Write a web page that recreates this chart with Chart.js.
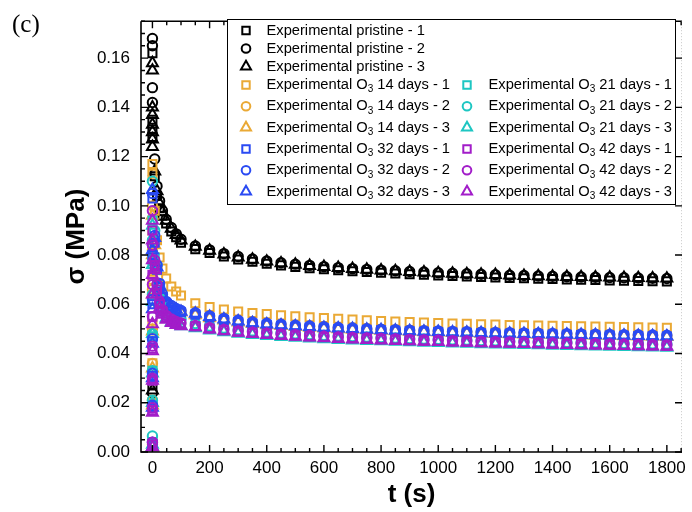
<!DOCTYPE html>
<html lang="es">
<head>
<meta charset="utf-8">
<title>Relajación de esfuerzos</title>
<script src="https://cdn.jsdelivr.net/npm/chart.js@4.4.1/dist/chart.umd.min.js"></script>
<style>
    html, body { margin: 0; padding: 0; background: #fff; overflow: hidden; }
    #myChart { display: block; }
</style>
</head>
<body>
<canvas id="myChart" width="692" height="512"></canvas>
<script>

///////////////////////////////////////////////////////////////////////////
//////////////////////////  DATOS  ////////////////////////////////////////
///////////////////////////////////////////////////////////////////////////

// tiempos de la relajación (s); la carga se grafica toda en t = 0
const tiempoRelax = [8, 16, 25, 35, 48, 66, 83, 100,
    150, 200, 250, 300, 350, 400, 450, 500, 550, 600, 650, 700, 750, 800, 850, 900,
    950, 1000, 1050, 1100, 1150, 1200, 1250, 1300, 1350, 1400, 1450, 1500, 1550, 1600,
    1650, 1700, 1750, 1800];

const ticksX = [0, 200, 400, 600, 800, 1000, 1200, 1400, 1600, 1800];
const ticksY = [0, 0.02, 0.04, 0.06, 0.08, 0.10, 0.12, 0.14, 0.16];

// pristine (MPa)
const cargaPristine1 = [0.0270, 0.1280, 0.1310, 0.1350, 0.1620];
const relaxPristine1 = [0.1120, 0.1040, 0.0990, 0.0960, 0.0928, 0.0896, 0.0872, 0.0850,
    0.0824, 0.0808, 0.0794, 0.0782, 0.0773, 0.0765, 0.0758, 0.0752, 0.0747, 0.0742,
    0.0738, 0.0734, 0.0731, 0.0728, 0.0725, 0.0722, 0.0720, 0.0717, 0.0715, 0.0713,
    0.0711, 0.0709, 0.0707, 0.0706, 0.0704, 0.0703, 0.0701, 0.0700, 0.0699, 0.0697,
    0.0696, 0.0695, 0.0694, 0.0693];
const cargaPristine2 = [0.0240, 0.1420, 0.1480, 0.1650, 0.1680];
const relaxPristine2 = [0.1190, 0.1080, 0.1020, 0.0980, 0.0945, 0.0912, 0.0886, 0.0864,
    0.0837, 0.0821, 0.0806, 0.0794, 0.0784, 0.0776, 0.0769, 0.0763, 0.0758, 0.0753,
    0.0749, 0.0745, 0.0742, 0.0739, 0.0736, 0.0733, 0.0731, 0.0728, 0.0726, 0.0724,
    0.0722, 0.0720, 0.0718, 0.0717, 0.0715, 0.0714, 0.0712, 0.0711, 0.0710, 0.0709,
    0.0708, 0.0707, 0.0706, 0.0705];
const cargaPristine3 = [0.0250, 0.1240, 0.1270, 0.1300, 0.1330, 0.1370, 0.1400, 0.1550, 0.1580];
const relaxPristine3 = [0.1140, 0.1060, 0.1010, 0.0975, 0.0940, 0.0908, 0.0882, 0.0860,
    0.0834, 0.0818, 0.0803, 0.0791, 0.0782, 0.0774, 0.0767, 0.0761, 0.0756, 0.0752,
    0.0748, 0.0744, 0.0741, 0.0738, 0.0735, 0.0732, 0.0730, 0.0727, 0.0725, 0.0723,
    0.0721, 0.0720, 0.0718, 0.0716, 0.0715, 0.0713, 0.0712, 0.0711, 0.0710, 0.0709,
    0.0708, 0.0707, 0.0706, 0.0705];

// O3 14 días
const cargaO3d14_1 = [0.0040, 0.0200, 0.0360, 0.0520, 0.0700, 0.0900, 0.1130, 0.1170];
const relaxO3d14_1 = [0.0980, 0.0860, 0.0790, 0.0745, 0.0705, 0.0672, 0.0652, 0.0636,
    0.0604, 0.0589, 0.0579, 0.0571, 0.0565, 0.0560, 0.0555, 0.0551, 0.0547, 0.0544,
    0.0541, 0.0538, 0.0535, 0.0532, 0.0530, 0.0528, 0.0526, 0.0524, 0.0522, 0.0521,
    0.0519, 0.0518, 0.0516, 0.0515, 0.0514, 0.0513, 0.0512, 0.0511, 0.0510, 0.0509,
    0.0508, 0.0507, 0.0506, 0.0505];
const cargaO3d14_2 = [0.0030, 0.0210, 0.0360, 0.0500, 0.0660, 0.0820, 0.1000];
const relaxO3d14_2 = [0.0860, 0.0750, 0.0680, 0.0640, 0.0610, 0.0592, 0.0580, 0.0571,
    0.0560, 0.0548, 0.0538, 0.0530, 0.0524, 0.0519, 0.0515, 0.0511, 0.0508, 0.0505,
    0.0502, 0.0500, 0.0498, 0.0496, 0.0494, 0.0492, 0.0490, 0.0489, 0.0487, 0.0486,
    0.0484, 0.0483, 0.0482, 0.0481, 0.0480, 0.0479, 0.0478, 0.0477, 0.0476, 0.0475,
    0.0474, 0.0473, 0.0472, 0.0471];
const cargaO3d14_3 = [0.0020, 0.0190, 0.0340, 0.0490, 0.0640, 0.0800, 0.0960];
const relaxO3d14_3 = [0.0840, 0.0735, 0.0670, 0.0632, 0.0603, 0.0587, 0.0576, 0.0567,
    0.0556, 0.0544, 0.0535, 0.0527, 0.0521, 0.0516, 0.0512, 0.0508, 0.0505, 0.0502,
    0.0499, 0.0497, 0.0495, 0.0493, 0.0491, 0.0489, 0.0487, 0.0486, 0.0484, 0.0483,
    0.0481, 0.0480, 0.0479, 0.0478, 0.0477, 0.0476, 0.0475, 0.0474, 0.0473, 0.0472,
    0.0471, 0.0470, 0.0469, 0.0468];

// O3 21 días
const cargaO3d21_1 = [0.0040, 0.0190, 0.0330, 0.0470, 0.0620, 0.0780, 0.0940];
const relaxO3d21_1 = [0.0790, 0.0680, 0.0615, 0.0582, 0.0558, 0.0543, 0.0533, 0.0526,
    0.0510, 0.0501, 0.0494, 0.0488, 0.0483, 0.0479, 0.0475, 0.0472, 0.0469, 0.0466,
    0.0463, 0.0461, 0.0459, 0.0457, 0.0455, 0.0453, 0.0451, 0.0450, 0.0448, 0.0447,
    0.0445, 0.0444, 0.0443, 0.0442, 0.0441, 0.0439, 0.0438, 0.0437, 0.0436, 0.0435,
    0.0434, 0.0433, 0.0432, 0.0431];
const cargaO3d21_2 = [0.0065, 0.0210, 0.0330, 0.0480, 0.0640, 0.0860, 0.1100];
const relaxO3d21_2 = [0.0900, 0.0760, 0.0670, 0.0620, 0.0585, 0.0563, 0.0549, 0.0539,
    0.0522, 0.0512, 0.0504, 0.0497, 0.0492, 0.0487, 0.0483, 0.0480, 0.0477, 0.0474,
    0.0471, 0.0469, 0.0467, 0.0465, 0.0463, 0.0461, 0.0459, 0.0458, 0.0456, 0.0455,
    0.0453, 0.0452, 0.0451, 0.0450, 0.0449, 0.0447, 0.0446, 0.0445, 0.0444, 0.0443,
    0.0442, 0.0441, 0.0440, 0.0439];
const cargaO3d21_3 = [0.0030, 0.0200, 0.0320, 0.0480, 0.0610, 0.0760, 0.0920];
const relaxO3d21_3 = [0.0770, 0.0665, 0.0600, 0.0566, 0.0543, 0.0528, 0.0518, 0.0511,
    0.0503, 0.0494, 0.0487, 0.0481, 0.0476, 0.0472, 0.0468, 0.0465, 0.0462, 0.0459,
    0.0456, 0.0454, 0.0452, 0.0450, 0.0448, 0.0446, 0.0444, 0.0443, 0.0441, 0.0440,
    0.0438, 0.0437, 0.0436, 0.0435, 0.0434, 0.0432, 0.0431, 0.0430, 0.0429, 0.0428,
    0.0427, 0.0426, 0.0425, 0.0424];

// O3 32 días
const cargaO3d32_1 = [0.0030, 0.0180, 0.0310, 0.0450, 0.0600, 0.0800, 0.1030];
const relaxO3d32_1 = [0.0850, 0.0740, 0.0670, 0.0630, 0.0602, 0.0587, 0.0576, 0.0568,
    0.0558, 0.0546, 0.0536, 0.0528, 0.0522, 0.0517, 0.0513, 0.0509, 0.0506, 0.0503,
    0.0500, 0.0498, 0.0496, 0.0494, 0.0492, 0.0490, 0.0488, 0.0487, 0.0485, 0.0484,
    0.0482, 0.0481, 0.0480, 0.0479, 0.0478, 0.0477, 0.0476, 0.0475, 0.0474, 0.0473,
    0.0472, 0.0471, 0.0470, 0.0469];
const cargaO3d32_2 = [0.0040, 0.0190, 0.0320, 0.0460, 0.0620, 0.0840, 0.1050];
const relaxO3d32_2 = [0.0880, 0.0760, 0.0685, 0.0642, 0.0612, 0.0595, 0.0583, 0.0575,
    0.0566, 0.0553, 0.0543, 0.0535, 0.0528, 0.0523, 0.0519, 0.0515, 0.0512, 0.0509,
    0.0506, 0.0504, 0.0501, 0.0499, 0.0497, 0.0495, 0.0493, 0.0492, 0.0490, 0.0489,
    0.0487, 0.0486, 0.0485, 0.0484, 0.0483, 0.0482, 0.0481, 0.0480, 0.0479, 0.0478,
    0.0477, 0.0476, 0.0475, 0.0474];
const cargaO3d32_3 = [0.0020, 0.0180, 0.0300, 0.0440, 0.0580, 0.0820, 0.1065];
const relaxO3d32_3 = [0.0870, 0.0750, 0.0675, 0.0635, 0.0605, 0.0590, 0.0579, 0.0570,
    0.0562, 0.0549, 0.0539, 0.0531, 0.0524, 0.0519, 0.0515, 0.0511, 0.0508, 0.0505,
    0.0502, 0.0500, 0.0497, 0.0495, 0.0493, 0.0491, 0.0489, 0.0488, 0.0486, 0.0485,
    0.0483, 0.0482, 0.0481, 0.0480, 0.0479, 0.0478, 0.0477, 0.0476, 0.0475, 0.0474,
    0.0473, 0.0472, 0.0471, 0.0470];

// O3 42 días
const cargaO3d42_1 = [0.0030, 0.0170, 0.0290, 0.0420, 0.0550, 0.0720, 0.0900];
const relaxO3d42_1 = [0.0760, 0.0660, 0.0600, 0.0570, 0.0548, 0.0535, 0.0526, 0.0520,
    0.0511, 0.0502, 0.0495, 0.0489, 0.0484, 0.0480, 0.0476, 0.0473, 0.0470, 0.0467,
    0.0464, 0.0462, 0.0460, 0.0458, 0.0456, 0.0454, 0.0452, 0.0451, 0.0449, 0.0448,
    0.0446, 0.0445, 0.0444, 0.0443, 0.0442, 0.0440, 0.0439, 0.0438, 0.0437, 0.0436,
    0.0435, 0.0434, 0.0433, 0.0432];
const cargaO3d42_2 = [0.0040, 0.0180, 0.0300, 0.0430, 0.0550, 0.0680, 0.0840, 0.0980];
const relaxO3d42_2 = [0.0780, 0.0680, 0.0610, 0.0578, 0.0555, 0.0540, 0.0530, 0.0524,
    0.0514, 0.0505, 0.0498, 0.0492, 0.0487, 0.0483, 0.0479, 0.0476, 0.0473, 0.0470,
    0.0467, 0.0465, 0.0463, 0.0461, 0.0459, 0.0457, 0.0455, 0.0454, 0.0452, 0.0451,
    0.0449, 0.0448, 0.0447, 0.0446, 0.0445, 0.0443, 0.0442, 0.0441, 0.0440, 0.0439,
    0.0438, 0.0437, 0.0436, 0.0435];
const cargaO3d42_3 = [0.0020, 0.0160, 0.0290, 0.0410, 0.0520, 0.0640, 0.0780, 0.0940, 0.0860, 0.0720];
const relaxO3d42_3 = [0.0740, 0.0640, 0.0585, 0.0558, 0.0538, 0.0525, 0.0517, 0.0511,
    0.0507, 0.0498, 0.0491, 0.0485, 0.0480, 0.0476, 0.0472, 0.0469, 0.0466, 0.0463,
    0.0460, 0.0458, 0.0456, 0.0454, 0.0452, 0.0450, 0.0448, 0.0447, 0.0445, 0.0444,
    0.0442, 0.0441, 0.0440, 0.0439, 0.0438, 0.0436, 0.0435, 0.0434, 0.0433, 0.0432,
    0.0431, 0.0430, 0.0429, 0.0428];


document.addEventListener('DOMContentLoaded', function () {

    ///////////////////////////////////////////////////////////////////////////
    //////////////////////////  SERIES  ///////////////////////////////////////
    ///////////////////////////////////////////////////////////////////////////

    const FUENTE = '"Liberation Sans", Arial, sans-serif';
    Chart.defaults.font.family = FUENTE;
    Chart.defaults.color = '#000';

    const NEGRO = '#000000';
    const NARANJA = '#EAA935';
    const CIAN = '#1DC6C2';
    const AZUL = '#2A4AF3';
    const MORADO = '#A21DC9';

    // radio de cada marcador (rect usa radio * raíz(2) de lado)
    const radios = { rect: 5.7, circle: 4.7, triangle: 6.3 };

    // columna / fila de la leyenda
    function serie(label, carga, relax, color, forma, orden, col, fila) {
        const puntos = carga.map(v => ({ x: 0, y: v }));
        relax.forEach((v, i) => puntos.push({ x: tiempoRelax[i], y: v }));
        return {
            label: label,
            data: puntos,
            showLine: false,
            pointStyle: forma,
            pointRadius: radios[forma],
            pointHoverRadius: radios[forma],
            pointBorderWidth: 2,
            borderColor: color,
            backgroundColor: 'rgba(0,0,0,0)',
            order: orden,
            clip: false,
            leyenda: { col: col, fila: fila }
        };
    }

    // el order más bajo queda encima
    const datasets = [
        serie('Experimental pristine - 1', cargaPristine1, relaxPristine1, NEGRO, 'rect', 14, 0, 0),
        serie('Experimental pristine - 2', cargaPristine2, relaxPristine2, NEGRO, 'circle', 13, 0, 1),
        serie('Experimental pristine - 3', cargaPristine3, relaxPristine3, NEGRO, 'triangle', 12, 0, 2),
        serie('Experimental O3 14 days - 1', cargaO3d14_1, relaxO3d14_1, NARANJA, 'rect', 11, 0, 3),
        serie('Experimental O3 14 days - 2', cargaO3d14_2, relaxO3d14_2, NARANJA, 'circle', 10, 0, 4),
        serie('Experimental O3 14 days - 3', cargaO3d14_3, relaxO3d14_3, NARANJA, 'triangle', 9, 0, 5),
        serie('Experimental O3 21 days - 1', cargaO3d21_1, relaxO3d21_1, CIAN, 'rect', 8, 1, 3),
        serie('Experimental O3 21 days - 2', cargaO3d21_2, relaxO3d21_2, CIAN, 'circle', 7, 1, 4),
        serie('Experimental O3 21 days - 3', cargaO3d21_3, relaxO3d21_3, CIAN, 'triangle', 6, 1, 5),
        serie('Experimental O3 32 days - 1', cargaO3d32_1, relaxO3d32_1, AZUL, 'rect', 5, 0, 6),
        serie('Experimental O3 32 days - 2', cargaO3d32_2, relaxO3d32_2, AZUL, 'circle', 4, 0, 7),
        serie('Experimental O3 32 days - 3', cargaO3d32_3, relaxO3d32_3, AZUL, 'triangle', 3, 0, 8),
        serie('Experimental O3 42 days - 1', cargaO3d42_1, relaxO3d42_1, MORADO, 'rect', 2, 1, 6),
        serie('Experimental O3 42 days - 2', cargaO3d42_2, relaxO3d42_2, MORADO, 'circle', 1, 1, 7),
        serie('Experimental O3 42 days - 3', cargaO3d42_3, relaxO3d42_3, MORADO, 'triangle', 0, 1, 8)
    ];

    ///////////////////////////////////////////////////////////////////////////
    //////////////////////////  PLUGINS  //////////////////////////////////////
    ///////////////////////////////////////////////////////////////////////////

    function marcador(ctx, forma, x, y, r) {
        ctx.beginPath();
        if (forma === 'rect') {
            const s = r * Math.SQRT1_2;
            ctx.rect(x - s, y - s, 2 * s, 2 * s);
        } else if (forma === 'circle') {
            ctx.arc(x, y, r, 0, Math.PI * 2);
        } else {
            let a = 0;
            ctx.moveTo(x + Math.sin(a) * r, y - Math.cos(a) * r);
            a += Math.PI * 2 / 3;
            ctx.lineTo(x + Math.sin(a) * r, y - Math.cos(a) * r);
            a += Math.PI * 2 / 3;
            ctx.lineTo(x + Math.sin(a) * r, y - Math.cos(a) * r);
            ctx.closePath();
        }
        ctx.stroke();
    }

    // marco con ticks hacia adentro en los cuatro lados
    const marcoEjes = {
        id: 'marcoEjes',
        afterDatasetsDraw(chart) {
            const { ctx, chartArea: a, scales: { x, y } } = chart;
            ctx.save();
            ctx.strokeStyle = '#000';
            ctx.lineWidth = 1.6;
            ctx.beginPath();
            ctx.moveTo(a.left, a.top);
            ctx.lineTo(a.left, a.bottom);
            ctx.lineTo(a.right, a.bottom);
            ctx.moveTo(a.left, a.top);
            ctx.lineTo(a.right, a.top);
            ctx.stroke();

            // eje derecho casi fuera del lienzo
            ctx.strokeStyle = '#c8c8c8';
            ctx.lineWidth = 1;
            ctx.setLineDash([1, 2]);
            ctx.beginPath();
            ctx.moveTo(a.right - 0.5, a.top);
            ctx.lineTo(a.right - 0.5, a.bottom);
            ctx.stroke();
            ctx.setLineDash([]);

            ctx.strokeStyle = '#000';
            ctx.lineWidth = 1.4;
            ctx.beginPath();
            for (let v = 0; v <= 1850; v += 50) {
                const px = x.getPixelForValue(v);
                const largo = ticksX.includes(v) ? 7 : 4;
                ctx.moveTo(px, a.bottom);
                ctx.lineTo(px, a.bottom - largo);
                ctx.moveTo(px, a.top);
                ctx.lineTo(px, a.top + largo);
            }
            for (let k = 0; k <= 35; k++) {
                const v = k * 0.005;
                const py = y.getPixelForValue(v);
                const mayor = k % 4 === 0;
                const largo = mayor ? 7 : 4;
                ctx.moveTo(a.left, py);
                ctx.lineTo(a.left + largo, py);
                if (mayor) {
                    ctx.moveTo(a.right, py);
                    ctx.lineTo(a.right - largo, py);
                }
            }
            ctx.stroke();
            ctx.restore();
        }
    };

    // leyenda a dos columnas con subíndice en O3
    const leyenda = {
        id: 'leyenda',
        afterDraw(chart) {
            const ctx = chart.ctx;
            const caja = { x: 227, y: 19, w: 448, h: 185 };
            const filasY = [30.5, 48.5, 66.5, 85, 106.3, 127.5, 149, 170.3, 191.5];
            const colMarca = [246, 467];
            const colTexto = [266.5, 488.5];

            ctx.save();
            ctx.fillStyle = '#fff';
            ctx.fillRect(caja.x, caja.y, caja.w, caja.h);
            ctx.strokeStyle = '#000';
            ctx.lineWidth = 1;
            ctx.strokeRect(caja.x + 0.5, caja.y + 0.5, caja.w, caja.h);

            chart.data.datasets.forEach(ds => {
                const py = filasY[ds.leyenda.fila];
                ctx.strokeStyle = ds.borderColor;
                ctx.lineWidth = ds.pointBorderWidth;
                marcador(ctx, ds.pointStyle, colMarca[ds.leyenda.col], py, ds.pointRadius * 0.92);

                ctx.fillStyle = '#000';
                ctx.textBaseline = 'middle';
                ctx.textAlign = 'left';
                let tx = colTexto[ds.leyenda.col];
                const partes = ds.label.split('O3');
                ctx.font = '14.7px ' + FUENTE;
                if (partes.length === 1) {
                    ctx.fillText(ds.label, tx, py);
                } else {
                    const antes = partes[0] + 'O';
                    ctx.fillText(antes, tx, py);
                    tx += ctx.measureText(antes).width;
                    ctx.font = '10px ' + FUENTE;
                    ctx.fillText('3', tx, py + 4.5);
                    tx += ctx.measureText('3').width;
                    ctx.font = '14.7px ' + FUENTE;
                    ctx.fillText(partes[1], tx, py);
                }
            });

            // rótulo del panel
            ctx.font = '25px "Liberation Serif", "DejaVu Serif", serif';
            ctx.fillStyle = '#000';
            ctx.textBaseline = 'middle';
            ctx.fillText('(c)', 12, 25);
            ctx.restore();
        }
    };

    ///////////////////////////////////////////////////////////////////////////
    //////////////////////////  GRÁFICO  //////////////////////////////////////
    ///////////////////////////////////////////////////////////////////////////

    const chartCanvas = document.getElementById('myChart');

    const chartConfig = {
        type: 'scatter',
        data: { datasets: datasets },
        options: {
            responsive: false,
            animation: false,
            layout: { padding: { top: 5, right: 1, left: 0, bottom: 0 } },
            plugins: {
                legend: { display: false },
                tooltip: { enabled: false }
            },
            scales: {
                x: {
                    type: 'linear',
                    min: -40,
                    max: 1853,
                    afterFit: function (s) { s.height = 60; },
                    afterBuildTicks: function (s) { s.ticks = ticksX.map(v => ({ value: v })); },
                    grid: { display: false, drawTicks: false },
                    border: { display: false },
                    ticks: {
                        padding: 6,
                        maxRotation: 0,
                        autoSkip: false,
                        color: '#000',
                        font: { size: 17 },
                        callback: v => String(v)
                    },
                    title: {
                        display: true,
                        text: 't (s)',
                        color: '#000',
                        font: { size: 26, weight: 'bold' },
                        padding: { top: 0, bottom: 2 }
                    }
                },
                y: {
                    type: 'linear',
                    min: 0,
                    max: 0.175,
                    afterFit: function (s) { s.width = 141; },
                    afterBuildTicks: function (s) { s.ticks = ticksY.map(v => ({ value: v })); },
                    grid: { display: false, drawTicks: false },
                    border: { display: false },
                    ticks: {
                        padding: 11,
                        color: '#000',
                        font: { size: 17 },
                        callback: v => v.toFixed(2)
                    },
                    title: {
                        display: true,
                        text: 'σ (MPa)',
                        color: '#000',
                        font: { size: 26, weight: 'bold' },
                        padding: { top: 61, bottom: 0 }
                    }
                }
            }
        },
        plugins: [marcoEjes, leyenda]
    };

    const myChart = new Chart(chartCanvas, chartConfig);

});
</script>
</body>
</html>
